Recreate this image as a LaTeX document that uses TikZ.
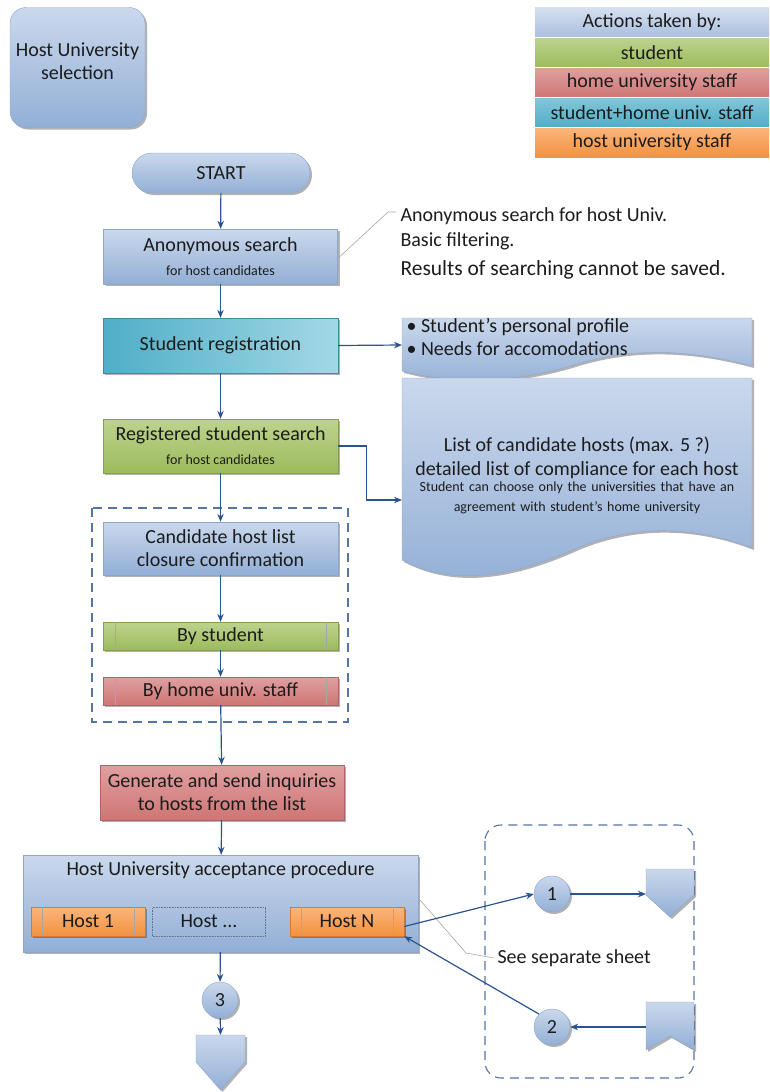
\documentclass[tikz,border=0pt]{standalone}
\usepackage{fontspec}
\setmainfont{Carlito}
\usetikzlibrary{arrows.meta,shadows,calc}
\definecolor{bluetop}{HTML}{CAD8EC}
\definecolor{bluebot}{HTML}{93AFD6}
\definecolor{bdr}{HTML}{8EA6C9}
\definecolor{cyanL}{HTML}{4FAEC8}
\definecolor{cyanR}{HTML}{A3D8E6}
\definecolor{greenT}{HTML}{BDD38E}
\definecolor{greenB}{HTML}{9DBB5C}
\definecolor{redT}{HTML}{E0A0A0}
\definecolor{redB}{HTML}{CF7575}
\definecolor{orT}{HTML}{FBB57C}
\definecolor{orB}{HTML}{F3913F}
\definecolor{arrc}{HTML}{2B5390}
\definecolor{txt}{HTML}{1C1C1C}
\newcommand\fsBig{\fontsize{20}{23}\selectfont}
\newcommand\fsMid{\fontsize{20}{23}\selectfont}
\newcommand\fsRes{\fontsize{21.5}{24}\selectfont}
\newcommand\fsSmall{\fontsize{14}{17}\selectfont}
\begin{document}
\begin{tikzpicture}[x=1pt,y=-1pt,
  every node/.style={text=txt},
  shd/.style={drop shadow={shadow xshift=2pt,shadow yshift=-2pt,opacity=.3,fill=black}},
  bluebox/.style={rectangle,draw=bdr,top color=bluetop,bottom color=bluebot,shd,align=center,inner sep=0pt,font=\fsBig},
  cyanbox/.style={bluebox,left color=cyanL,right color=cyanR,draw=cyanL!80!black},
  greenbox/.style={bluebox,top color=greenT,bottom color=greenB,draw=greenB!85!black},
  redbox/.style={bluebox,top color=redT,bottom color=redB,draw=redB!85!black},
  orbox/.style={bluebox,top color=orT,bottom color=orB,draw=orB!85!black},
  legrow/.style={rectangle,minimum width=234pt,minimum height=30pt,inner sep=0pt,font=\fsMid},
  conn/.style={circle,draw=bdr,top color=bluetop,bottom color=bluebot,shd,minimum size=36pt,inner sep=0pt,font=\fsMid},
  arr/.style={draw=arrc,line width=1.2pt,-{Stealth[length=8pt,width=6.5pt]}},
  grayline/.style={draw=black!35,line width=0.6pt},
  grpdash/.style={draw=arrc!80,line width=1.1pt,dash pattern=on 9pt off 6pt},
  doc/.style={draw=bdr,top color=bluetop,bottom color=bluebot,shd}
]
\useasboundingbox (0,0) rectangle (769,1092);

% title box
\node[bluebox,rounded corners=16pt,minimum width=135pt,minimum height=120pt] (hus) at (77.5,67.5) {};
\node[align=center,font=\fsMid] (hust) at (77.5,61) {Host University\\selection};

% legend
\node[legrow,top color=bluetop!80,bottom color=bluebot!80] (lg0) at (652,22.5) {Actions taken by:};
\node[legrow,top color=greenT,bottom color=greenB] (lg1) at (652,52.5) {student};
\node[legrow,top color=redT,bottom color=redB] (lg2) at (652,82.5) {home university staff};
\node[legrow,top color=cyanL!70!white,bottom color=cyanL] (lg3) at (652,112.5) {student+home univ. staff};
\node[legrow,top color=orT,bottom color=orB] (lg4) at (652,142.5) {host university staff};
\draw[draw=white,line width=0.8pt] (lg0.south west) -- (lg0.south east) (lg1.south west) -- (lg1.south east) (lg2.south west) -- (lg2.south east) (lg3.south west) -- (lg3.south east);

% main column
\node[bluebox,rounded corners=20pt,minimum width=178pt,minimum height=40pt,font=\fsMid] (start) at (221,173) {START};
\node[bluebox,minimum width=234pt,minimum height=55pt] (anon) at (220.5,256.5) {Anonymous search\\[1pt]{\fsSmall for host candidates}};
\node[cyanbox,minimum width=235pt,minimum height=55pt] (reg) at (220.5,345.5) {Student registration};
\node[greenbox,minimum width=235pt,minimum height=54pt] (rss) at (220.5,446) {Registered student search\\[1pt]{\fsSmall for host candidates}};
\node[bluebox,minimum width=235pt,minimum height=53pt] (chl) at (220.5,548.5) {Candidate host list\\closure confirmation};
\node[greenbox,minimum width=235pt,minimum height=28pt] (bys) at (220.5,636) {By student};
\node[redbox,minimum width=235pt,minimum height=28pt] (byh) at (220.5,691) {By home univ. staff};
\foreach \n in {bys,byh}{
  \draw[draw=black!35,line width=0.6pt] ([xshift=12pt]\n.north west) -- ([xshift=12pt]\n.south west)
    ([xshift=-12pt]\n.north east) -- ([xshift=-12pt]\n.south east);
}
\node[redbox,minimum width=244pt,minimum height=55pt] (gen) at (222,792.5) {Generate and send inquiries\\to hosts from the list};

% dashed group left
\draw[grpdash] (92,508) rectangle (348,722);

% acceptance procedure
\node[bluebox,minimum width=395pt,minimum height=97pt] (hua) at (220.5,903.5) {};
\node[font=\fsBig] (huat) at (220.5,870) {Host University acceptance procedure};
\node[orbox,minimum width=114pt,minimum height=29pt] (h1) at (88,921.5) {Host 1};
\node[rectangle,draw=bdr!70!black,densely dotted,line width=0.6pt,minimum width=113pt,minimum height=29pt,font=\fsBig,inner sep=0pt] (hd) at (209,921.5) {Host ...};
\node[orbox,minimum width=114pt,minimum height=29pt] (hN) at (347,921.5) {Host N};
\foreach \n in {h1,hN}{
  \draw[draw=black!35,line width=0.6pt] ([xshift=11pt]\n.north west) -- ([xshift=11pt]\n.south west)
    ([xshift=-11pt]\n.north east) -- ([xshift=-11pt]\n.south east);
}

% connector 3 + off-page
\node[conn] (c3) at (220,1000) {3};
\path[doc] (196,1035) -- (245,1035) -- (245,1062) -- (220.5,1090) -- (196,1062) -- cycle;
\coordinate (off3) at (220.5,1035);

% right dashed group
\draw[grpdash,rounded corners=16pt] (485,825) rectangle (694,1078);
\node[conn] (c1) at (552,894) {1};
\node[conn] (c2) at (552,1027) {2};
\path[doc] (646,869) -- (694,869) -- (694,895) -- (670,917) -- (646,895) -- cycle;
\coordinate (off1) at (646,894);
\path[doc] (646,1002) -- (694,1002) -- (694,1050) -- (670,1036) -- (646,1050) -- cycle;
\coordinate (off2) at (646,1027);

% documents
\path[doc] (402,318) -- (752,318) -- (752,366) .. controls (700,352) and (640,345) .. (577,364) .. controls (520,382) and (460,386) .. (402,371) -- cycle;
\coordinate (d1in) at (402,345);
\node[anchor=west,align=left,font=\fsMid] (d1t) at (403,337.5) {\textbullet\ Student’s personal profile\\\textbullet\ Needs for accomodations};
\path[doc] (402,378) -- (752,378) -- (752,548) .. controls (700,528) and (640,522) .. (577,548) .. controls (515,576) and (455,588) .. (402,560) -- cycle;
\coordinate (d2in) at (402,500);
\node[align=center,font=\fsBig,inner sep=0pt] (d2t) at (577,457.5) {List of candidate hosts (max. 5 ?)\\[1pt]detailed list of compliance for each host};
\node[align=center,inner sep=0pt,text width=340pt,font=\fsSmall] (d2s) at (577,498) {Student can choose only the universities that have an\\[3pt]agreement with student’s home university};

% annotations
\coordinate (an1) at (388,212);
\draw[grayline] (anon.east) ++(0,2) -- (an1) -- ++(8,0);
\node[anchor=west,font=\fsMid] (a1) at (397,216) {Anonymous search for host Univ.};
\node[anchor=west,font=\fsMid] (a2) at (397,241) {Basic filtering.};
\node[anchor=west,font=\fsRes] (a3) at (397,270) {Results of searching cannot be saved.};

\node[anchor=west,font=\fsMid] (sep) at (494,958) {See separate sheet};
\draw[grayline] (420,900) -- (466,953) -- (sep.west);

% arrows
\draw[arr] (start) -- (anon);
\draw[arr] (anon) -- (reg);
\draw[arr] (reg.east) -- (d1in);
\draw[arr] (reg) -- (rss);
\draw[arr] (rss.east) -- ++(28,0) |- (d2in);
\draw[arr] (rss) -- (chl);
\draw[arr] (chl) -- (bys);
\draw[arr] (bys) -- (byh);
\draw[arr] (byh) -- (gen);
\draw[arr] (gen) -- (hua);
\draw[arr] (hua) -- (c3);
\draw[arr] (c3) -- (off3);
\draw[arr] ([yshift=-5pt]hN.east) -- (c1.west);
\draw[arr] (c1.east) -- (off1);
\draw[arr] (off2) -- (c2.east);
\draw[arr] (c2.north west) -- (hN.south east);
\end{tikzpicture}
\end{document}
